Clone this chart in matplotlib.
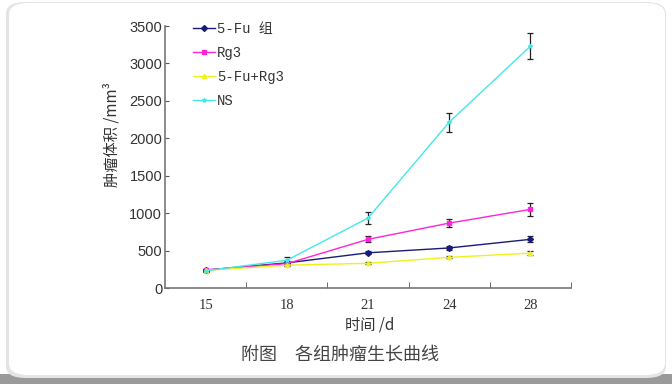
import matplotlib
matplotlib.use("Agg")
import matplotlib.pyplot as plt
from matplotlib.patches import FancyBboxPatch, Rectangle
from matplotlib.lines import Line2D
import numpy as np

days = ["15", "18", "21", "24", "28"]
series_names = ["5-Fu 组", "Rg3", "5-Fu+Rg3", "NS"]
fu_vals = [240, 335, 470, 535, 650]
fu_err = [15, 20, 20, 25, 40]
rg3_vals = [240, 325, 650, 867, 1050]
rg3_err = [15, 20, 40, 55, 85]
combo_vals = [235, 305, 330, 410, 465]
combo_err = [15, 15, 15, 15, 30]
ns_vals = [230, 370, 935, 2215, 3230]
ns_err = [15, 40, 75, 125, 170]

colors = ["#1a1a7a", "#ff22dd", "#f0f020", "#44e8e8"]
markers = ["D", "s", "^", "*"]

plt.rcParams['font.family'] = ['Liberation Serif', 'Noto Sans CJK SC']

fig = plt.figure(figsize=(6.72, 3.84), dpi=100)
fig.patch.set_facecolor("white")

# card frame
fig.patches.append(Rectangle((0, 0), 1, 10/384, transform=fig.transFigure,
                             facecolor="#9a9a9a", edgecolor="none", zorder=-10))
fig.patches.append(FancyBboxPatch((6/672, 6/384), 660/672, 376/384,
                                  boxstyle="round,pad=0,rounding_size=0.03",
                                  transform=fig.transFigure, facecolor="#e4e4e4",
                                  edgecolor="none", zorder=-9))
fig.patches.append(FancyBboxPatch((9/672, 9/384), 656/672, 372/384,
                                  boxstyle="round,pad=0,rounding_size=0.03",
                                  transform=fig.transFigure, facecolor="white",
                                  edgecolor="none", zorder=-8))

ax = fig.add_axes([165/672, 1 - 288/384, (571 - 165)/672, (288 - 26)/384])
ax.set_facecolor("none")
x = np.arange(1, len(days) + 1)
data = [(fu_vals, fu_err), (rg3_vals, rg3_err), (combo_vals, combo_err), (ns_vals, ns_err)]
handles = []
for (v, e), c, m, name in zip(data, colors, markers, series_names):
    ax.errorbar(x, v, yerr=e, color=c, ecolor="#222222", elinewidth=0.9, capsize=2.5,
                capthick=0.9, marker=m, markersize=3, lw=1.0)
    handles.append(Line2D([], [], color=c, marker=m, markersize=3, lw=1.0, label=name))

ax.set_xlim(0.5, 5.5)
ax.set_ylim(0, 3500)
ax.set_yticks(np.arange(0, 3501, 500))
ax.set_yticklabels([str(v) for v in range(0, 3501, 500)], family=['Liberation Sans'],
                   fontsize=10.5, color="#333333")
ax.set_xticks(x)
ax.set_xticklabels(days, fontsize=10.5, color="#333333")
ax.tick_params(axis='x', length=0, pad=8)
ax.set_xticks(np.arange(1.5, 5.6, 1), minor=True)
ax.tick_params(axis='x', which='minor', direction='in', length=4, color="#555555")
ax.tick_params(axis='y', direction='in', length=3, color="#555555", pad=2)
for s in ["top", "right"]:
    ax.spines[s].set_visible(False)
for s in ["left", "bottom"]:
    ax.spines[s].set_color("#777777")
    ax.spines[s].set_linewidth(1.2)

leg = ax.legend(handles=handles, loc="upper left", bbox_to_anchor=(0.069, 1.015),
                frameon=False, borderpad=0, borderaxespad=0,
                handlelength=1.6, handletextpad=0.15, labelspacing=0.72,
                prop={'family': ['Liberation Mono', 'Noto Sans CJK SC'], 'size': 10})
for t in leg.get_texts():
    t.set_color("#333333")

fig.text(112/672, 1 - 135/384, "肿瘤体积 /mm³", rotation=90, ha="center", va="center",
         fontsize=11, color="#333333", family=['Noto Sans CJK SC', 'DejaVu Sans'])
fig.text(370/672, 1 - 325/384, "时间 /d", ha="center", va="center",
         fontsize=11, color="#333333", family=['Noto Sans CJK SC', 'DejaVu Sans'])
fig.text(340/672, 1 - 355/384, "附图　各组肿瘤生长曲线", ha="center", va="center",
         fontsize=13, color="#444444", family=['Noto Sans CJK SC', 'DejaVu Sans'])

fig.savefig("out.png", dpi=100)
